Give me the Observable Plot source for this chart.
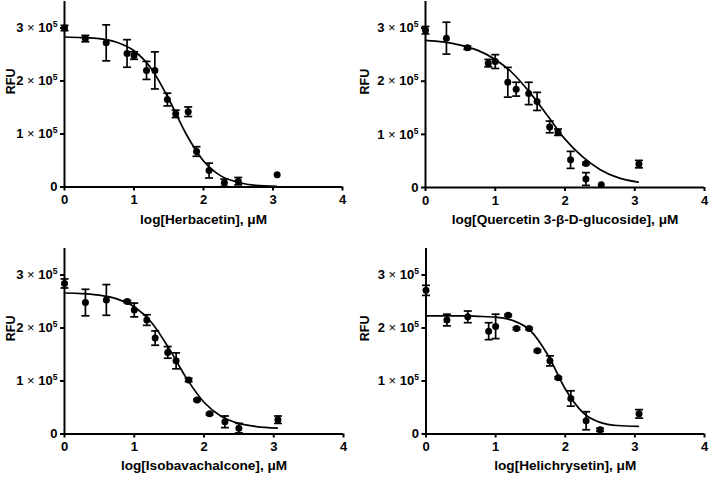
<!DOCTYPE html>
<html>
<head>
<meta charset="utf-8">
<script src="https://cdn.jsdelivr.net/npm/d3@7"></script>
<script src="https://cdn.jsdelivr.net/npm/@observablehq/plot@0.6"></script>
<style>
  body { margin: 0; background: #fff; }
  #root { position: relative; width: 709px; height: 478px; background: #fff; }
  #root svg { position: absolute; }
  #root svg tspan.sup { font-size: 8.5px; }
  #root svg tspan.times { font-weight: normal; }
</style>
</head>
<body>
<div id="root"></div>
<script>
// ---- data (log concentration in µM, RFU) ----
const titles = [
  "log[Herbacetin], μM",
  "log[Quercetin 3-β-D-glucoside], μM",
  "log[Isobavachalcone], μM",
  "log[Helichrysetin], μM"
];
const xTicks = [0, 1, 2, 3, 4];
const yTicks = [0, 100000, 200000, 300000];

// Herbacetin
const herbX   = [0, 0.30, 0.60, 0.90, 1.00, 1.18, 1.30, 1.48, 1.60, 1.78, 1.90, 2.08, 2.30, 2.50, 3.06];
const herbY   = [300000, 280000, 272000, 252000, 248000, 220000, 220000, 165000, 138000, 142000, 67000, 31000, 8000, 11000, 23000];
const herbErr = [5000, 6000, 34000, 26000, 7000, 17000, 35000, 12000, 7000, 9000, 9000, 14000, 7000, 7000, 0];
const herbFitX = [0, 0.25, 0.5, 0.75, 1.0, 1.25, 1.5, 1.75, 2.0, 2.25, 2.5, 2.75, 3.05];
const herbFitY = [283000, 282000, 280000, 273000, 257000, 223000, 166000, 100000, 49000, 21000, 9000, 3000, 1000];

// Quercetin 3-β-D-glucoside
const querX   = [0, 0.30, 0.60, 0.90, 1.00, 1.18, 1.30, 1.48, 1.60, 1.78, 1.90, 2.08, 2.30, 2.30, 2.52, 3.06];
const querY   = [296000, 281000, 263000, 234000, 237000, 198000, 185000, 177000, 162000, 114000, 104000, 52000, 45000, 16000, 5000, 44000];
const querErr = [7000, 30000, 3000, 7000, 13000, 28000, 13000, 21000, 17000, 11000, 6000, 16000, 2000, 12000, 0, 7000];
const querFitX = [0, 0.25, 0.5, 0.75, 1.0, 1.25, 1.5, 1.75, 2.0, 2.25, 2.5, 2.75, 3.05];
const querFitY = [277000, 274000, 268000, 258000, 241000, 215000, 178000, 135000, 91000, 58000, 34000, 19000, 10000];

// Isobavachalcone
const isoX   = [0, 0.30, 0.60, 0.90, 1.00, 1.18, 1.30, 1.48, 1.60, 1.78, 1.90, 2.08, 2.30, 2.50, 3.06];
const isoY   = [284000, 248000, 253000, 250000, 234000, 215000, 181000, 154000, 138000, 102000, 64000, 38000, 23000, 11000, 27000];
const isoErr = [8500, 25000, 29000, 2000, 13000, 10000, 13500, 11000, 15000, 3000, 2000, 2000, 11000, 9000, 7000];
const isoFitX = [0, 0.25, 0.5, 0.75, 1.0, 1.25, 1.5, 1.75, 2.0, 2.25, 2.5, 2.75, 3.05];
const isoFitY = [266000, 265000, 262000, 255000, 240000, 210000, 161000, 105000, 60000, 33000, 20000, 14000, 11000];

// Helichrysetin
const heliX   = [0, 0.30, 0.60, 0.90, 1.00, 1.18, 1.30, 1.48, 1.60, 1.78, 1.90, 2.08, 2.30, 2.50, 3.06];
const heliY   = [271000, 215000, 221000, 194000, 203000, 224000, 199000, 199000, 157000, 138000, 106000, 67000, 25000, 8000, 38000];
const heliErr = [9500, 11000, 11000, 16000, 23000, 2000, 2000, 2000, 2000, 9500, 2000, 14500, 17000, 3000, 8000];
const heliFitX = [0, 0.25, 0.5, 0.75, 1.0, 1.25, 1.5, 1.75, 2.0, 2.25, 2.5, 2.75, 3.05];
const heliFitY = [223000, 223000, 223000, 222000, 220500, 214000, 195000, 149000, 85000, 41000, 22000, 16000, 14500];

// ---- layout ----
const panels = [
  {title: titles[0], x: herbX, y: herbY, err: herbErr, fx: herbFitX, fy: herbFitY,
   left: 0,   top: 0,   width: 354, mL: 64, mR: 12, mT: 1, mB: 52.5, titleDy: 36.5},
  {title: titles[1], x: querX, y: querY, err: querErr, fx: querFitX, fy: querFitY,
   left: 354, top: 0,   width: 355, mL: 71, mR: 5,  mT: 1, mB: 52,   titleDy: 36},
  {title: titles[2], x: isoX,  y: isoY,  err: isoErr,  fx: isoFitX,  fy: isoFitY,
   left: 0,   top: 239, width: 354, mL: 64, mR: 11, mT: 9, mB: 44.5, titleDy: 35.5},
  {title: titles[3], x: heliX, y: heliY, err: heliErr, fx: heliFitX, fy: heliFitY,
   left: 354, top: 239, width: 355, mL: 71.5, mR: 5, mT: 9, mB: 44.5, titleDy: 35.5}
];

const capSymbol = {
  draw(ctx, size) {
    const w = Math.sqrt(size / Math.PI);
    ctx.moveTo(-w, 0);
    ctx.lineTo(w, 0);
  }
};

const font = "'Liberation Sans', Arial, sans-serif";
const root = document.getElementById("root");
const yFmt = d => d === 0 ? "0" : `${d / 100000}×10^5`;

for (const p of panels) {
  const pts = p.x.map((x, i) => ({x, y: p.y[i], e: p.err[i]}));
  const bars = pts.filter(d => d.e > 0);
  const fit = p.fx.map((x, i) => ({x, y: p.fy[i]}));
  const svg = Plot.plot({
    width: p.width,
    height: 239,
    marginLeft: p.mL, marginRight: p.mR, marginTop: p.mT, marginBottom: p.mB,
    style: {fontFamily: font, fontSize: "13px", fontWeight: "bold", color: "#000", background: "transparent", overflow: "visible"},
    x: {domain: [0, 4]},
    y: {domain: [0, 350000]},
    marks: [
      Plot.axisX({ticks: xTicks, tickSize: 4, strokeWidth: 2, tickFormat: () => "", label: null}),
      Plot.axisY({ticks: yTicks, tickSize: 4, strokeWidth: 2, tickFormat: () => "", label: null}),
      Plot.text(xTicks, {x: d => d, frameAnchor: "bottom", dy: 17, text: d => String(d), fontSize: 13, fontWeight: "bold", fill: "#000"}),
      Plot.text(yTicks, {y: d => d, frameAnchor: "left", dx: -7, textAnchor: "end", text: yFmt, fontSize: 13, fontWeight: "bold", fill: "#000"}),
      Plot.ruleY([0], {stroke: "#000", strokeWidth: 2}),
      Plot.ruleX([0], {stroke: "#000", strokeWidth: 2}),
      Plot.line(fit, {x: "x", y: "y", curve: "monotone-x", stroke: "#000", strokeWidth: 1.7}),
      Plot.ruleX(bars, {x: "x", y1: d => d.y - d.e, y2: d => d.y + d.e, stroke: "#000", strokeWidth: 1.7}),
      Plot.dot(bars, {x: "x", y: d => d.y + d.e, symbol: capSymbol, r: 4, fill: "none", stroke: "#000", strokeWidth: 1.7}),
      Plot.dot(bars, {x: "x", y: d => d.y - d.e, symbol: capSymbol, r: 4, fill: "none", stroke: "#000", strokeWidth: 1.7}),
      Plot.dot(pts, {x: "x", y: "y", r: 3.5, fill: "#000", stroke: "none"}),
      Plot.text([p.title], {frameAnchor: "bottom", dy: p.titleDy, text: d => d, fontSize: 13.6, fontWeight: "bold", fill: "#000"}),
      Plot.text(["RFU"], {frameAnchor: "left", dx: -(p.mL - 10), rotate: -90, text: d => d, fontSize: 12.5, fontWeight: "bold", fill: "#000"})
    ]
  });
  svg.style.left = p.left + "px";
  svg.style.top = p.top + "px";
  root.appendChild(svg);
  // y tick labels as "n × 10^5" with a real superscript
  const ns = "http://www.w3.org/2000/svg";
  svg.querySelectorAll("text").forEach(t => {
    const s = t.textContent;
    const m = /^(\d+)×10\^(\d+)$/.exec(s);
    if (!m) return;
    t.textContent = "";
    const a = document.createElementNS(ns, "tspan"); a.textContent = m[1];
    const b = document.createElementNS(ns, "tspan"); b.textContent = " × "; b.setAttribute("class", "times");
    const c = document.createElementNS(ns, "tspan"); c.textContent = "10";
    const d = document.createElementNS(ns, "tspan"); d.textContent = m[2]; d.setAttribute("class", "sup"); d.setAttribute("dy", "-5");
    t.append(a, b, c, d);
  });
}
</script>
</body>
</html>
